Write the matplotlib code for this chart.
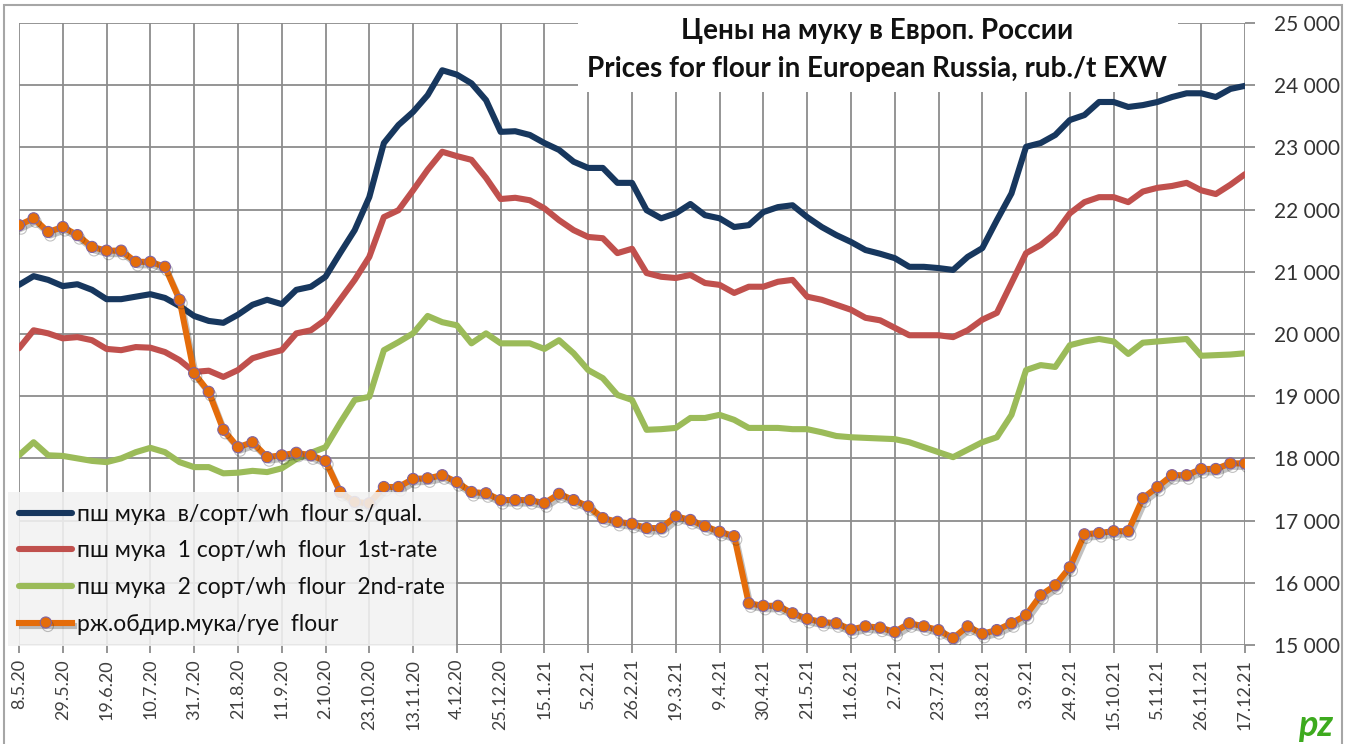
import matplotlib
matplotlib.use('Agg')
import matplotlib.pyplot as plt
import matplotlib.patheffects as pe
from matplotlib.patches import Rectangle
from matplotlib.ticker import FuncFormatter, FixedLocator

plt.rcParams['font.family'] = ['Lato', 'Noto Sans', 'DejaVu Sans']

# ===================== DATA (rub./t EXW, weekly 8.5.20 .. 17.12.21) =====================
tick_labels = ['8.5.20', '29.5.20', '19.6.20', '10.7.20', '31.7.20', '21.8.20', '11.9.20',
               '2.10.20', '23.10.20', '13.11.20', '4.12.20', '25.12.20', '15.1.21', '5.2.21',
               '26.2.21', '19.3.21', '9.4.21', '30.4.21', '21.5.21', '11.6.21', '2.7.21',
               '23.7.21', '13.8.21', '3.9.21', '24.9.21', '15.10.21', '5.11.21', '26.11.21',
               '17.12.21']

wh_squal = [20790, 20930, 20870, 20770, 20800, 20710, 20560, 20560, 20600, 20640,
            20580, 20450, 20290, 20210, 20180, 20310, 20470, 20550, 20480, 20710,
            20760, 20920, 21300, 21670, 22200, 23070, 23360, 23570, 23840, 24240,
            24170, 24030, 23760, 23250, 23260, 23200, 23070, 22960, 22770, 22670,
            22670, 22430, 22430, 21990, 21860, 21940, 22090, 21910, 21860, 21720,
            21750, 21960, 22040, 22070, 21880, 21720, 21590, 21480, 21350, 21290,
            21220, 21080, 21080, 21060, 21030, 21240, 21380, 21830, 22260, 23010,
            23070, 23200, 23440, 23520, 23730, 23730, 23650, 23680, 23730, 23810,
            23870, 23870, 23810, 23940, 23990]

wh_1st = [19770, 20060, 20010, 19930, 19950, 19900, 19760, 19740, 19790, 19780,
          19710, 19580, 19390, 19410, 19310, 19420, 19610, 19680, 19740, 20010,
          20060, 20230, 20550, 20870, 21240, 21880, 21990, 22310, 22640, 22930,
          22860, 22800, 22510, 22170, 22190, 22150, 22020, 21830, 21670, 21560,
          21540, 21300, 21370, 20980, 20920, 20900, 20950, 20820, 20790, 20660,
          20760, 20760, 20840, 20870, 20600, 20550, 20470, 20390, 20260, 20220,
          20100, 19980, 19980, 19980, 19950, 20060, 20230, 20340, 20820, 21300,
          21430, 21620, 21940, 22120, 22200, 22200, 22120, 22290, 22350, 22380,
          22430, 22310, 22250, 22400, 22570]

wh_2nd = [18050, 18260, 18050, 18040, 18000, 17960, 17940, 18000, 18100, 18170,
          18100, 17940, 17860, 17860, 17760, 17770, 17800, 17780, 17840, 17990,
          18090, 18180, 18570, 18940, 18990, 19740, 19870, 20010, 20290, 20190,
          20140, 19850, 20010, 19850, 19850, 19850, 19760, 19900, 19690, 19420,
          19290, 19020, 18940, 18460, 18470, 18490, 18650, 18650, 18700, 18620,
          18490, 18490, 18490, 18470, 18470, 18420, 18360, 18340, 18330, 18320,
          18310, 18260, 18180, 18100, 18020, 18140, 18260, 18340, 18700, 19420,
          19500, 19470, 19820, 19880, 19920, 19880, 19680, 19860, 19880, 19900,
          19920, 19650, 19660, 19670, 19690]

rye = [21750, 21860, 21640, 21720, 21590, 21400, 21340, 21340, 21160, 21160,
       21080, 20550, 19370, 19070, 18460, 18180, 18260, 18020, 18050, 18090,
       18050, 17960, 17460, 17300, 17280, 17540, 17540, 17670, 17680, 17730,
       17620, 17460, 17440, 17330, 17330, 17330, 17280, 17430, 17330, 17230,
       17040, 16980, 16950, 16880, 16880, 17070, 17010, 16910, 16820, 16750,
       15670, 15630, 15630, 15510, 15420, 15370, 15350, 15250, 15300, 15280,
       15210, 15350, 15300, 15240, 15110, 15300, 15180, 15240, 15350, 15480,
       15800, 15960, 16250, 16780, 16800, 16830, 16830, 17360, 17540, 17730,
       17730, 17830, 17830, 17920, 17920]

names = ['пш мука  в/сорт/wh  flour s/qual.',
         'пш мука  1 сорт/wh  flour  1st-rate',
         'пш мука  2 сорт/wh  flour  2nd-rate',
         'рж.обдир.мука/rye  flour']

weeks = list(range(len(rye)))

# ===================== FIGURE =====================
fig = plt.figure(figsize=(13.55, 7.44), dpi=100)
fig.patches.append(Rectangle((4 / 1355, -0.01), 1338 / 1355, 1 - 5 / 744 + 0.01,
                             transform=fig.transFigure, fill=False,
                             edgecolor='#A6A6A6', lw=1.5))

ax = fig.add_axes([19 / 1355, 99 / 744, 1226 / 1355, 622 / 744])
ax.set_xlim(0, 84)
ax.set_ylim(15000, 25000)

grid_c = '#8C8C8C'
ax.xaxis.set_major_locator(FixedLocator(range(0, 85, 3)))
ax.set_xticklabels(tick_labels, rotation=90, fontsize=13, color='#404040')
ax.yaxis.set_major_locator(FixedLocator(range(15000, 25001, 1000)))
ax.yaxis.set_major_formatter(FuncFormatter(lambda v, p: f'{int(v):,}'.replace(',', ' ')))
ax.yaxis.tick_right()
ax.tick_params(axis='y', labelsize=15, labelcolor='#333333', color=grid_c,
               length=7, width=1.3, pad=14)
ax.tick_params(axis='x', color=grid_c, length=6, width=1.3, pad=4)
ax.grid(True, color=grid_c, lw=1.3)
ax.set_axisbelow(True)
for s in ax.spines.values():
    s.set_visible(False)

ax.plot(weeks, wh_squal, color='#17375E', lw=4.4, solid_joinstyle='round',
        solid_capstyle='round', label=names[0], zorder=3)
ax.plot(weeks, wh_1st, color='#C0504D', lw=4.4, solid_joinstyle='round',
        solid_capstyle='round', label=names[1], zorder=3)
ax.plot(weeks, wh_2nd, color='#9BBB59', lw=4.4, solid_joinstyle='round',
        solid_capstyle='round', label=names[2], zorder=3)
ax.plot(weeks, rye, color='#E46C0A', lw=4.4, solid_joinstyle='round',
        marker='o', ms=8, mfc='#E46C0A', mec='#8064A2', mew=0.8,
        label=names[3], zorder=4,
        path_effects=[pe.SimpleLineShadow(offset=(1.5, -2.5), shadow_color='#333333',
                                          alpha=0.3), pe.Normal()])

# title box (white, hides the grid)
ax.add_patch(Rectangle((578 / 1355, 652 / 744), 600 / 1355, 72 / 744,
                       transform=fig.transFigure, facecolor='white',
                       edgecolor='none', zorder=2))
fig.text(877 / 1355, 1 - 31 / 744, 'Цены на муку в Европ. России', ha='center',
         va='center', fontsize=20, fontweight='bold', color='#111111')
fig.text(877 / 1355, 1 - 69 / 744, 'Prices for flour in European Russia, rub./t EXW',
         ha='center', va='center', fontsize=20, fontweight='bold', color='#111111')

leg = fig.legend(loc='lower left', bbox_to_anchor=(8 / 1355, 98 / 744),
                 fontsize=16.5, frameon=True, fancybox=False, facecolor='#F2F2F2',
                 edgecolor='none', framealpha=0.88, handlelength=2.3,
                 handletextpad=0.2, labelspacing=0.68, borderpad=0.5,
                 borderaxespad=0)
for t in leg.get_texts():
    t.set_color('#111111')

fig.text(1316 / 1355, 1 - 725 / 744, 'pz', ha='center', va='center', fontsize=26,
         fontweight='bold', style='italic', color='#3DAA1E')

fig.savefig('out.png', dpi=100)
